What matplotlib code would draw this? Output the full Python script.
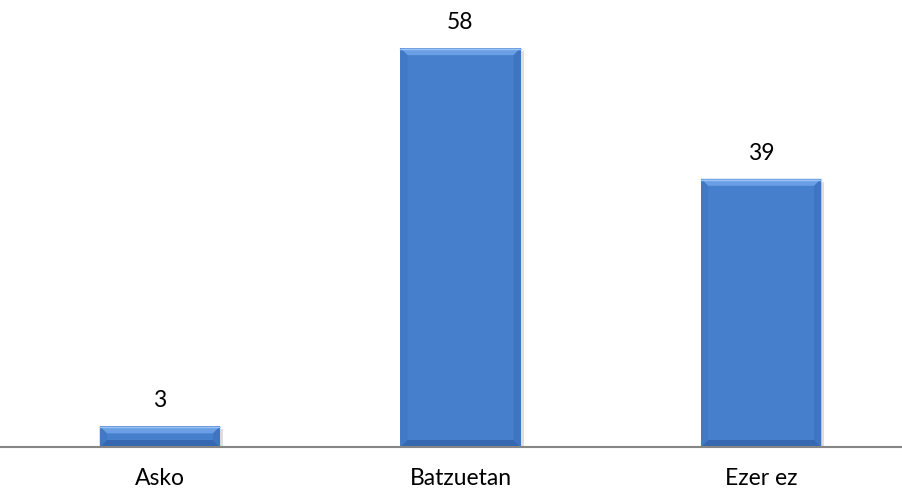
import matplotlib.pyplot as plt
from matplotlib.patches import Polygon

categories = ["Asko", "Batzuetan", "Ezer ez"]
values = [3, 58, 39]

plt.rcParams["font.family"] = ["Lato", "DejaVu Sans"]

fig = plt.figure(figsize=(9.03, 4.93), dpi=100)
ax = fig.add_axes([0, 0.0933, 1, 0.9067])

bars = ax.bar(range(len(values)), values, width=0.4, color="#467FCC", zorder=2)

ax.set_xlim(-0.532, 2.472)
ax.set_ylim(0, 65)
for s in ["top", "right", "left"]:
    ax.spines[s].set_visible(False)
ax.spines["bottom"].set_color("#868686")
ax.spines["bottom"].set_linewidth(1.5)
ax.spines["bottom"].set_zorder(3)
ax.set_yticks([])
ax.set_xticks(range(len(categories)))
ax.set_xticklabels(categories, fontsize=16.5)
ax.tick_params(axis="x", length=0, pad=15)

for b, v in zip(bars, values):
    ax.text(b.get_x() + b.get_width() / 2, v + 2.2, str(v), ha="center",
            va="bottom", fontsize=16.5)

# bevel edges drawn in pixel space
fig.canvas.draw()
d = 7
for b in bars:
    (x0, y0), (x1, y1) = ax.transData.transform(
        [(b.get_x(), 0), (b.get_x() + b.get_width(), b.get_height())])
    dd = min(d, (y1 - y0) / 2)
    faces = [
        ([(x0, y1), (x1, y1), (x1 - dd, y1 - dd), (x0 + dd, y1 - dd)], "#6A9FE6"),
        ([(x0, y0), (x1, y0), (x1 - dd, y0 + dd), (x0 + dd, y0 + dd)], "#3568B0"),
        ([(x0, y0), (x0, y1), (x0 + dd, y1 - dd), (x0 + dd, y0 + dd)], "#4179C6"),
        ([(x1, y0), (x1, y1), (x1 - dd, y1 - dd), (x1 - dd, y0 + dd)], "#3E74C0"),
    ]
    # soft shadow behind the bar
    ax.add_patch(Polygon([(x0 + 2, y0 - 3), (x1 + 3, y0 - 3), (x1 + 3, y1 - 3), (x0 + 2, y1 - 3)],
                         closed=True, transform=None, facecolor="#000000",
                         alpha=0.13, edgecolor="none", zorder=1.5))
    for pts, c in faces:
        ax.add_patch(Polygon(pts, closed=True, transform=None, facecolor=c,
                             edgecolor="none", zorder=2.5))
    ax.plot([x0, x1], [y1 - 1, y1 - 1], transform=None, color="#9CC3F2",
            lw=1, zorder=2.6)

fig.savefig("out.png", dpi=100)
